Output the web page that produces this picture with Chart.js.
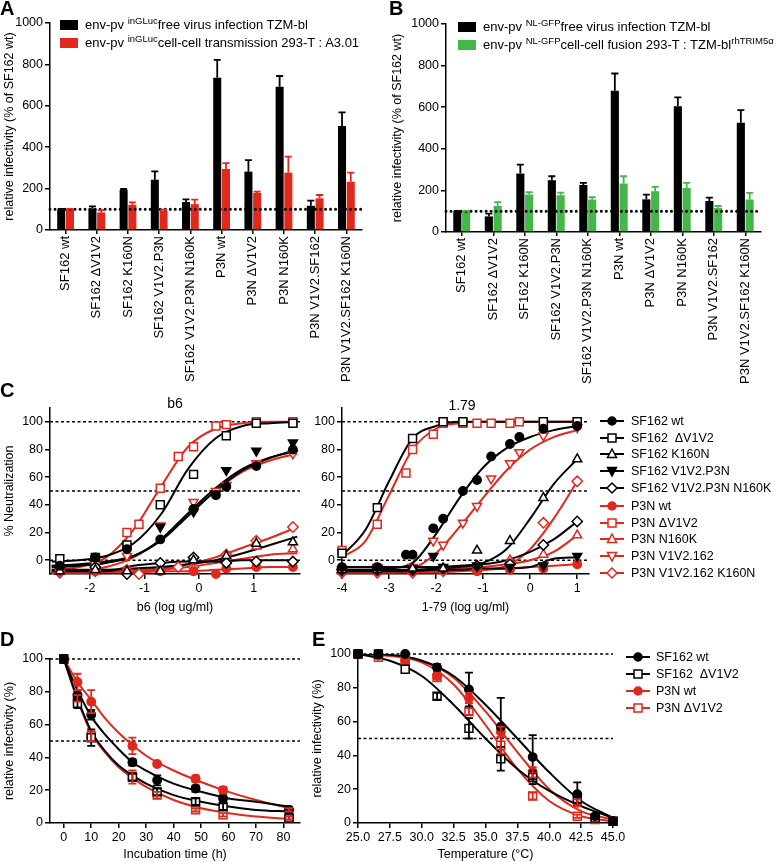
<!DOCTYPE html>
<html>
<head>
<meta charset="utf-8">
<script src="https://cdn.jsdelivr.net/npm/chart.js@4.4.1/dist/chart.umd.min.js"></script>
<style>
body { margin: 0; background: #fff; }
#page { position: relative; width: 778px; height: 862px; overflow: hidden; background: #fff;
        font-family: 'Liberation Sans', Arial, sans-serif; color: #000; }
canvas { position: absolute; }
.lbl { position: absolute; white-space: pre; line-height: 1; }
.panel { font-weight: bold; font-size: 20px; }
.leg { font-size: 13px; }
.leg sup { font-size: 9.5px; vertical-align: 5px; line-height: 0; }
.swatch { position: absolute; width: 18px; height: 10px; }
.cleg { font-size: 12.5px; }
</style>
</head>
<body>
<div id="page">
  <canvas id="chartA" width="380" height="386" style="left:0;top:0"></canvas>
  <canvas id="chartB" width="390" height="386" style="left:388px;top:0"></canvas>
  <canvas id="chartC1" width="310" height="225" style="left:0;top:390px"></canvas>
  <canvas id="chartC2" width="310" height="225" style="left:292px;top:390px"></canvas>
  <canvas id="chartD" width="310" height="232" style="left:0;top:630px"></canvas>
  <canvas id="chartE" width="322" height="232" style="left:308px;top:630px"></canvas>

  <div class="lbl panel" style="left:0;top:-2px">A</div>
  <div class="lbl panel" style="left:389px;top:-2px">B</div>
  <div class="lbl panel" style="left:0;top:380px">C</div>
  <div class="lbl panel" style="left:0;top:629px">D</div>
  <div class="lbl panel" style="left:312px;top:629px">E</div>

  <div class="swatch" style="left:60px;top:20px;background:#000"></div>
  <div class="lbl leg" style="left:85px;top:18px">env-pv <sup>inGLuc</sup>free virus infection TZM-bl</div>
  <div class="swatch" style="left:60px;top:38px;background:#e2271d"></div>
  <div class="lbl leg" style="left:85px;top:36px">env-pv <sup>inGLuc</sup>cell-cell transmission 293-T : A3.01</div>

  <div class="swatch" style="left:458px;top:22px;background:#000"></div>
  <div class="lbl leg" style="left:483px;top:20px">env-pv <sup>NL-GFP</sup>free virus infection TZM-bl</div>
  <div class="swatch" style="left:458px;top:40px;background:#45b649"></div>
  <div class="lbl leg" style="left:483px;top:38px">env-pv <sup>NL-GFP</sup>cell-cell fusion 293-T : TZM-bl<sup>rhTRIM5α</sup></div>

  <div class="lbl" style="left:175px;top:396px;font-size:14px;transform:translateX(-50%)">b6</div>
  <div class="lbl" style="left:462px;top:398px;font-size:14px;transform:translateX(-50%)">1.79</div>

  <div id="legendC"></div>
  <div id="legendE"></div>
</div>
<script>
const RED = '#e2271d';
const GREEN = '#45b649';

// ---- panel A / B bars ----
const categories = ['SF162 wt', 'SF162 ΔV1V2', 'SF162 K160N', 'SF162 V1V2.P3N', 'SF162 V1V2.P3N N160K',
    'P3N wt', 'P3N ΔV1V2', 'P3N N160K', 'P3N V1V2.SF162', 'P3N V1V2.SF162 K160N'];
const aFree = [100, 104, 193, 243, 135, 736, 282, 692, 117, 502];
const aFreeErr = [2, 10, 5, 40, 13, 86, 56, 52, 25, 66];
const aCell = [100, 85, 122, 94, 125, 295, 179, 277, 153, 233];
const aCellErr = [2, 11, 11, 4, 22, 28, 6, 77, 16, 44];
const bFree = [100, 75, 281, 249, 226, 679, 157, 605, 149, 525];
const bFreeErr = [2, 13, 43, 19, 10, 83, 23, 42, 16, 61];
const bFusion = [100, 125, 180, 177, 156, 233, 196, 212, 116, 156];
const bFusionErr = [2, 19, 11, 12, 11, 35, 21, 24, 9, 32];
const barTicks = [0, 200, 400, 600, 800, 1000];

// ---- panel C ----
const cNames = ['SF162 wt', 'SF162  ΔV1V2', 'SF162 K160N', 'SF162 V1V2.P3N', 'SF162 V1V2.P3N N160K',
    'P3N wt', 'P3N ΔV1V2', 'P3N N160K', 'P3N V1V2.162', 'P3N V1V2.162 K160N'];
const cTicksY = [0, 20, 40, 60, 80, 100];

const b6X = [-2.55, -1.9, -1.32, -1.1, -0.71, -0.38, -0.1, 0.31, 0.5, 1.05, 1.72];
const b6SF162wt = [-4, 2, 8, null, 15, null, 37, 47, 53, 68, 80];
const b6SF162dV1V2 = [1, 2, 11, null, 40, null, 62, null, 90, 99, 99];
const b6SF162K160N = [-8, -7, -8, null, -8, null, 0, null, 3, 12, 13];
const b6SF162V1V2P3N = [-6, 1, 10, null, 24, null, 35, 48, 65, 79, 85];
const b6SF162N160K = [-5, -5, -10, null, -2, null, 2, null, -2, -1, -1];
const b6P3Nwt = [-8, -8, -7, null, -8, null, -8, -10, -6, -5, -5];
const b6P3NdV1V2 = [-7, -3, 20, 26, 52, 75, 82, 97, 98, 100, 100];
const b6P3NN160K = [-8, -8, -7, null, -7, null, -6, null, 0, 10, 8];
const b6P3NV1V2162 = [-8, -3, 3, null, 25, null, 42, 50, 54, 70, 77];
const b6P3NK160N = [-9, -8, -8, -10, -7, -5, -5, null, 4, 14, 24];

const b6FitX = [-2.7, -2.2, -1.7, -1.2, -0.7, -0.2, 0.3, 0.8, 1.3, 1.8];
const b6FitSF162wt = [-4, -3, -1, 3, 14, 32, 50, 65, 74, 80];
const b6FitSF162dV1V2 = [-1, 0, 3, 12, 33, 66, 88, 97, 99, 100];
const b6FitSF162K160N = [-7, -7, -7, -6, -5, -3, 0, 5, 11, 17];
const b6FitSF162V1V2P3N = [-5, -4, -2, 3, 15, 34, 52, 66, 74, 79];
const b6FitSF162N160K = [-8, -8, -8, -4, -2, -1, -1, 0, 0, 0];
const b6FitP3Nwt = [-9, -9, -9, -9, -8, -8, -7, -6, -5, -5];
const b6FitP3NdV1V2 = [-7, -5, 2, 22, 53, 82, 95, 99, 100, 100];
const b6FitP3NN160K = [-9, -9, -8, -8, -7, -5, -2, 1, 4, 5];
const b6FitP3NV1V2162 = [-9, -8, -5, 2, 15, 33, 50, 64, 72, 77];
const b6FitP3NK160N = [-9, -9, -8, -7, -6, -3, 2, 9, 16, 24];
const b6TicksX = [-2, -1, 0, 1];

const m79X = [-4, -3.25, -2.64, -2.5, -2.06, -1.85, -1.43, -1.13, -0.83, -0.43, -0.23, 0.28, 1.0];
const m79SF162wt = [-5, -5, 4, 4, 23, 30, 50, 58, 75, 84, 89, 95, 97];
const m79SF162dV1V2 = [5, 38, null, 88, null, 100, 100, null, null, null, null, 100, 100];
const m79SF162K160N = [-7, -7, null, -6, null, -6, null, 7, null, 14, null, 45, 73];
const m79SF162V1V2P3N = [-7, -6, null, -6, 3, -5, null, -4, null, -5, null, -4, 3];
const m79SF162N160K = [-7, -7, null, -7, null, -6, null, -4, null, -3, null, 11, 28];
const m79P3Nwt = [-8, -8, null, -8, null, -7, null, -8, null, -7, null, -6, -3];
const m79P3NdV1V2 = [7, 26, 63, 80, 91, 99, 99, 99, 99, 99, 100, 100, 100];
const m79P3NN160K = [-8, -8, null, -7, null, -7, null, -6, null, 0, null, 4, 18];
const m79P3NV1V2162 = [-8, -5, null, -5, 14, 11, 27, 39, 59, 70, 78, 90, 96];
const m79P3NK160N = [-9, -9, null, -9, null, -8, null, -7, null, -3, null, 27, 57];

const m79FitX = [-4, -3.5, -3, -2.5, -2, -1.5, -1, -0.5, 0, 0.5, 1];
const m79FitSF162wt = [-7, -7, -6, -2, 19, 45, 67, 81, 89, 94, 97];
const m79FitSF162dV1V2 = [3, 22, 57, 88, 97, 100, 100, 100, 100, 100, 100];
const m79FitSF162K160N = [-7, -7, -7, -7, -6, -5, -2, 8, 30, 55, 73];
const m79FitSF162V1V2P3N = [-8, -8, -8, -8, -7, -7, -6, -6, -5, 1, 2];
const m79FitSF162N160K = [-5, -5, -5, -5, -5, -4, -3, 0, 6, 15, 28];
const m79FitP3Nwt = [-9, -9, -9, -8, -8, -7, -7, -6, -5, -4, -3];
const m79FitP3NdV1V2 = [2, 14, 47, 80, 95, 99, 100, 100, 100, 100, 100];
const m79FitP3NN160K = [-8, -8, -8, -8, -7, -6, -5, -3, 0, 6, 18];
const m79FitP3NV1V2162 = [-8, -8, -8, -6, 5, 24, 45, 65, 80, 89, 94];
const m79FitP3NK160N = [-9, -9, -9, -9, -9, -8, -7, -4, 8, 30, 57];
const m79TicksX = [-4, -3, -2, -1, 0, 1];

// ---- panel D ----
const deNames = ['SF162 wt', 'SF162  ΔV1V2', 'P3N wt', 'P3N ΔV1V2'];
const dX = [0, 5, 10, 25, 34, 48, 58, 82];
const dSF162wt = [100, 78, 66, 37, 26, 21, 15, 8];
const dSF162wtErr = [0, 3, 3, 2, 3, 2, 2, 2];
const dSF162dV1V2 = [100, 73, 52, 28, 19, 13, 10, 3];
const dSF162dV1V2Err = [0, 3, 5, 2, 2, 2, 2, 1];
const dP3Nwt = [100, 86, 74, 47, 36, 27, 20, 8];
const dP3NwtErr = [0, 5, 7, 5, 1, 2, 2, 1];
const dP3NdV1V2 = [100, 76, 53, 28, 17, 8, 5, 3];
const dP3NdV1V2Err = [0, 2, 3, 4, 2, 1, 1, 1];
const dFitX = [0, 5, 10, 15, 20, 25, 30, 40, 50, 60, 70, 82];
const dFitSF162wt = [100, 81, 65, 54, 45, 37, 32, 24, 19, 15, 13, 10];
const dFitSF162dV1V2 = [100, 76, 56, 44, 35, 29, 24, 17, 13, 10, 8, 7];
const dFitP3Nwt = [100, 86, 75, 64, 55, 47.5, 41, 32, 25, 19, 14, 9];
const dFitP3NdV1V2 = [100, 75, 55, 43, 34, 27.5, 22, 14, 9, 6, 4, 2.5];
const dTicksX = [0, 10, 20, 30, 40, 50, 60, 70, 80];

// ---- panel E ----
const eX = [25, 26.6, 28.7, 31.2, 33.7, 36.2, 38.7, 42.2, 43.6, 45];
const eSF162wt = [100, 100, 100, 92, 79, 57, 39, 17, 4, 1];
const eSF162wtErr = [0, 0, 0, 2, 10, 17, 13, 7, 1, 0];
const eSF162dV1V2 = [100, 100, 91, 75, 56, 38, 27, 14, 3, 1];
const eSF162dV1V2Err = [0, 0, 0, 2, 6, 7, 4, 2, 0, 0];
const eP3Nwt = [100, 99, 96, 87, 74, 54, 30, 12, 3, 1];
const eP3NwtErr = [0, 0, 0, 2, 3, 3, 3, 2, 0, 0];
const eP3NdV1V2 = [100, 98, 96, 86, 66, 46, 16, 4, 2, 1];
const eP3NdV1V2Err = [0, 0, 0, 1, 2, 5, 2, 1, 0, 0];
const eFitX = [25, 27.5, 30, 32.5, 35, 37.5, 40, 42.5, 45];
const eFitSF162wt = [100, 99.5, 96, 87, 70, 50, 30, 13, 3];
const eFitSF162dV1V2 = [100, 96, 87, 70, 50, 32, 19, 10, 3];
const eFitP3Nwt = [100, 99, 96, 86, 66, 42, 20, 7, 2];
const eFitP3NdV1V2 = [100, 99, 95, 82, 58, 32, 13, 4, 1];
const eTicksX = [25, 27.5, 30, 32.5, 35, 37.5, 40, 42.5, 45];
const deTicksY = [0, 20, 40, 60, 80, 100];

// marker styles for the 10 C series and the 4 D/E series
const cColors = ['#000', '#000', '#000', '#000', '#000', RED, RED, RED, RED, RED];
const cShapes = ['circle', 'rect', 'triangle', 'down', 'rectRot', 'circle', 'rect', 'triangle', 'down', 'rectRot'];
const cFilled = [true, false, false, true, false, true, false, false, false, false];
const deColors = ['#000', '#000', RED, RED];
const deShapes = ['circle', 'rect', 'circle', 'rect'];
const deFilled = [true, false, true, false];

Chart.defaults.font.family = "'Liberation Sans', Arial, sans-serif";
Chart.defaults.font.size = 12.5;
Chart.defaults.color = '#000';
Chart.defaults.animation = false;

function drawRefLines(chart, opts) {
    if (!opts.values) return;
    const ctx = chart.ctx;
    const area = chart.chartArea;
    ctx.save();
    ctx.strokeStyle = '#000';
    ctx.lineWidth = opts.width;
    ctx.lineCap = opts.cap || 'butt';
    ctx.setLineDash(opts.dash);
    opts.values.forEach(v => {
        const y = chart.scales.y.getPixelForValue(v);
        ctx.beginPath();
        ctx.moveTo(area.left, y);
        ctx.lineTo(area.right, y);
        ctx.stroke();
    });
    ctx.restore();
}

const refLines = {
    id: 'refLines',
    beforeDatasetsDraw(chart, args, opts) {
        if (!opts.front) drawRefLines(chart, opts);
    },
    afterDatasetsDraw(chart, args, opts) {
        if (opts.front) drawRefLines(chart, opts);
    }
};

const errorBars = {
    id: 'errorBars',
    afterDatasetsDraw(chart) {
        const ctx = chart.ctx;
        const yScale = chart.scales.y;
        chart.data.datasets.forEach((ds, i) => {
            const meta = chart.getDatasetMeta(i);
            meta.data.forEach((el, j) => {
                const raw = ds.data[j];
                let top, bottom, cap;
                if (ds.errors) {
                    if (!ds.errors[j]) return;
                    top = yScale.getPixelForValue(raw + ds.errors[j]);
                    bottom = el.y;
                    cap = 3.5;
                } else if (raw && raw.e) {
                    top = yScale.getPixelForValue(raw.y + raw.e);
                    bottom = yScale.getPixelForValue(raw.y - raw.e);
                    cap = 4;
                } else {
                    return;
                }
                ctx.save();
                ctx.strokeStyle = ds.borderColor;
                ctx.lineWidth = 1.8;
                ctx.beginPath();
                ctx.moveTo(el.x, bottom);
                ctx.lineTo(el.x, top);
                ctx.moveTo(el.x - cap, top);
                ctx.lineTo(el.x + cap, top);
                if (!ds.errors) {
                    ctx.moveTo(el.x - cap, bottom);
                    ctx.lineTo(el.x + cap, bottom);
                }
                ctx.stroke();
                ctx.restore();
            });
        });
    }
};

function axis(extra) {
    const base = {
        border: { color: '#000', width: 1.5 },
        grid: { drawOnChartArea: false, color: '#000', lineWidth: 1.5, tickLength: 5 },
        ticks: { color: '#000', padding: 2, font: { size: 12.5 } },
        title: { display: false, color: '#000', font: { size: 12 }, padding: { top: 3, bottom: 3 } }
    };
    for (const key in extra) {
        if (typeof extra[key] === 'object' && !Array.isArray(extra[key]) && base[key]) {
            base[key] = Object.assign({}, base[key], extra[key]);
        } else {
            base[key] = extra[key];
        }
    }
    return base;
}

function fixedTicks(values) {
    return scale => { scale.ticks = values.map(v => ({ value: v })); };
}

// plain numbers, no thousands separator
const plainNumber = v => String(v);

function createBarChart(id, first, firstErr, second, secondErr, secondColor, box) {
    const ctx = document.getElementById(id).getContext('2d');
    return new Chart(ctx, {
        type: 'bar',
        data: {
            labels: categories,
            datasets: [
                { data: first, errors: firstErr, backgroundColor: '#000', borderColor: '#000', borderWidth: 0 },
                { data: second, errors: secondErr, backgroundColor: secondColor, borderColor: secondColor, borderWidth: 0 }
            ]
        },
        plugins: [refLines, errorBars],
        options: {
            responsive: false,
            layout: { padding: { top: box.top, right: box.right, left: 0, bottom: 0 } },
            datasets: { bar: { barPercentage: 0.92, categoryPercentage: 0.56 } },
            plugins: {
                legend: { display: false },
                tooltip: { enabled: false },
                refLines: { values: [100], width: 3, dash: [0.01, 5], cap: 'round', front: true }
            },
            scales: {
                x: axis({
                    grid: { offset: false, drawOnChartArea: false, color: '#000', lineWidth: 1.5, tickLength: 4 },
                    ticks: { color: '#000', padding: 2, minRotation: 90, maxRotation: 90, autoSkip: false, font: { size: 13 } },
                    afterFit: s => { s.height = box.xh; }
                }),
                y: axis({
                    min: 0, max: 1000,
                    afterBuildTicks: fixedTicks(barTicks),
                    ticks: { color: '#000', padding: 2, font: { size: 12.5 }, callback: plainNumber },
                    title: { display: true, text: 'relative infectivity (% of SF162 wt)', color: '#000', font: { size: 12.5 }, padding: { top: 2, bottom: 2 } },
                    afterFit: s => { s.width = box.yw; }
                })
            }
        }
    });
}

function pointDatasets(xs, series, errs, colors, shapes, filled) {
    return series.map((ys, i) => {
        const shape = shapes[i];
        const radius = { circle: 4.2, rect: 5.6, triangle: 5.2, down: 5.2, rectRot: 5.2 }[shape];
        return {
            data: xs.map((x, j) => ({ x: x, y: ys[j], e: errs ? errs[i][j] : 0 })).filter(p => p.y !== null),
            showLine: false,
            pointStyle: shape === 'down' ? 'triangle' : shape,
            rotation: shape === 'down' ? 180 : 0,
            pointRadius: radius,
            pointBorderWidth: 1.5,
            borderColor: colors[i],
            pointBorderColor: colors[i],
            pointBackgroundColor: filled[i] ? colors[i] : '#fff',
            backgroundColor: colors[i],
            clip: false
        };
    });
}

function fitDatasets(xs, series, colors) {
    return series.map((ys, i) => ({
        data: xs.map((x, j) => ({ x: x, y: ys[j] })),
        showLine: true,
        pointRadius: 0,
        borderColor: colors[i],
        borderWidth: 2,
        cubicInterpolationMode: 'monotone',
        fill: false
    }));
}

function createCurveChart(id, cfg) {
    const ctx = document.getElementById(id).getContext('2d');
    const datasets = pointDatasets(cfg.px, cfg.points, cfg.errs, cfg.colors, cfg.shapes, cfg.filled)
        .concat(fitDatasets(cfg.fx, cfg.fits, cfg.colors));
    return new Chart(ctx, {
        type: 'scatter',
        data: { datasets: datasets },
        plugins: [refLines, errorBars],
        options: {
            responsive: false,
            layout: { padding: { top: cfg.box.top, right: cfg.box.right, left: 0, bottom: 0 } },
            plugins: {
                legend: { display: false },
                tooltip: { enabled: false },
                refLines: { values: cfg.refs, width: 1.5, dash: [3, 2.5], front: false }
            },
            scales: {
                x: axis({
                    type: 'linear', min: cfg.xMin, max: cfg.xMax,
                    afterBuildTicks: fixedTicks(cfg.xTicks),
                    ticks: { color: '#000', padding: 2, font: { size: 12.5 }, callback: cfg.xFormat || plainNumber },
                    title: { display: true, text: cfg.xTitle, color: '#000', font: { size: 12.5 }, padding: { top: 3, bottom: 0 } },
                    afterFit: s => { s.height = cfg.box.xh; }
                }),
                y: axis({
                    type: 'linear', min: cfg.yMin, max: cfg.yMax,
                    afterBuildTicks: fixedTicks(cfg.yTicks),
                    ticks: { color: '#000', padding: 2, font: { size: 12.5 }, callback: plainNumber },
                    title: { display: !!cfg.yTitle, text: cfg.yTitle || '', color: '#000', font: { size: 12.5 }, padding: { top: 2, bottom: 2 } },
                    afterFit: s => { s.width = cfg.box.yw; }
                })
            }
        }
    });
}

function markerSvg(shape, color, filled) {
    const fill = filled ? color : '#fff';
    let mark;
    if (shape === 'circle') mark = `<circle cx="12" cy="7" r="4" fill="${fill}" stroke="${color}" stroke-width="1.5"/>`;
    else if (shape === 'rect') mark = `<rect x="8" y="3" width="8" height="8" fill="${fill}" stroke="${color}" stroke-width="1.5"/>`;
    else if (shape === 'triangle') mark = `<polygon points="12,2 16.5,10.5 7.5,10.5" fill="${fill}" stroke="${color}" stroke-width="1.5"/>`;
    else if (shape === 'down') mark = `<polygon points="7.5,3.5 16.5,3.5 12,12" fill="${fill}" stroke="${color}" stroke-width="1.5"/>`;
    else mark = `<polygon points="12,2 17,7 12,12 7,7" fill="${fill}" stroke="${color}" stroke-width="1.5"/>`;
    return `<svg width="24" height="14" style="position:absolute;left:0;top:0"><line x1="0" y1="7" x2="24" y2="7" stroke="${color}" stroke-width="2"/>${mark}</svg>`;
}

function buildLegend(containerId, names, colors, shapes, filled, left, textLeft, rows) {
    const container = document.getElementById(containerId);
    names.forEach((name, i) => {
        const sym = document.createElement('div');
        sym.style.position = 'absolute';
        sym.style.left = left + 'px';
        sym.style.top = (rows[i] - 7) + 'px';
        sym.style.width = '24px';
        sym.style.height = '14px';
        sym.innerHTML = markerSvg(shapes[i], colors[i], filled[i]);
        container.appendChild(sym);

        const text = document.createElement('div');
        text.className = 'lbl cleg';
        text.style.left = textLeft + 'px';
        text.style.top = (rows[i] - 6) + 'px';
        text.textContent = name;
        container.appendChild(text);
    });
}

createBarChart('chartA', aFree, aFreeErr, aCell, aCellErr, RED, { yw: 50, xh: 156, top: 23, right: 18 });
createBarChart('chartB', bFree, bFreeErr, bFusion, bFusionErr, GREEN, { yw: 58, xh: 154, top: 24, right: 17 });

createCurveChart('chartC1', {
    px: b6X,
    points: [b6SF162wt, b6SF162dV1V2, b6SF162K160N, b6SF162V1V2P3N, b6SF162N160K,
        b6P3Nwt, b6P3NdV1V2, b6P3NN160K, b6P3NV1V2162, b6P3NK160N],
    fx: b6FitX,
    fits: [b6FitSF162wt, b6FitSF162dV1V2, b6FitSF162K160N, b6FitSF162V1V2P3N, b6FitSF162N160K,
        b6FitP3Nwt, b6FitP3NdV1V2, b6FitP3NN160K, b6FitP3NV1V2162, b6FitP3NK160N],
    colors: cColors, shapes: cShapes, filled: cFilled,
    xMin: -2.73, xMax: 1.85, xTicks: b6TicksX, yMin: -10, yMax: 110, yTicks: cTicksY,
    refs: [0, 50, 100], xTitle: 'b6 (log ug/ml)', yTitle: '% Neutralization',
    box: { yw: 50, xh: 41, top: 18, right: 10 }
});

createCurveChart('chartC2', {
    px: m79X,
    points: [m79SF162wt, m79SF162dV1V2, m79SF162K160N, m79SF162V1V2P3N, m79SF162N160K,
        m79P3Nwt, m79P3NdV1V2, m79P3NN160K, m79P3NV1V2162, m79P3NK160N],
    fx: m79FitX,
    fits: [m79FitSF162wt, m79FitSF162dV1V2, m79FitSF162K160N, m79FitSF162V1V2P3N, m79FitSF162N160K,
        m79FitP3Nwt, m79FitP3NdV1V2, m79FitP3NN160K, m79FitP3NV1V2162, m79FitP3NK160N],
    colors: cColors, shapes: cShapes, filled: cFilled,
    xMin: -4, xMax: 1.25, xTicks: m79TicksX, yMin: -10, yMax: 110, yTicks: cTicksY,
    refs: [0, 50, 100], xTitle: '1-79 (log ug/ml)', yTitle: '',
    box: { yw: 50, xh: 41, top: 18, right: 13 }
});

createCurveChart('chartD', {
    px: dX,
    points: [dSF162wt, dSF162dV1V2, dP3Nwt, dP3NdV1V2],
    errs: [dSF162wtErr, dSF162dV1V2Err, dP3NwtErr, dP3NdV1V2Err],
    fx: dFitX,
    fits: [dFitSF162wt, dFitSF162dV1V2, dFitP3Nwt, dFitP3NdV1V2],
    colors: deColors, shapes: deShapes, filled: deFilled,
    xMin: -5, xMax: 86, xTicks: dTicksX, yMin: 0, yMax: 100, yTicks: deTicksY,
    refs: [50, 100], xTitle: 'Incubation time (h)', yTitle: 'relative infectivity (%)',
    box: { yw: 50, xh: 39, top: 29, right: 10 }
});

createCurveChart('chartE', {
    px: eX,
    points: [eSF162wt, eSF162dV1V2, eP3Nwt, eP3NdV1V2],
    errs: [eSF162wtErr, eSF162dV1V2Err, eP3NwtErr, eP3NdV1V2Err],
    fx: eFitX,
    fits: [eFitSF162wt, eFitSF162dV1V2, eFitP3Nwt, eFitP3NdV1V2],
    colors: deColors, shapes: deShapes, filled: deFilled,
    xMin: 25, xMax: 45, xTicks: eTicksX, yMin: 0, yMax: 100, yTicks: deTicksY,
    xFormat: v => Number(v).toFixed(1),
    refs: [50, 100], xTitle: 'Temperature (°C)', yTitle: 'relative infectivity (%)',
    box: { yw: 50, xh: 39, top: 24, right: 17 }
});

buildLegend('legendC', cNames, cColors, cShapes, cFilled, 600, 631,
    [421, 438, 454, 471, 488, 506, 523, 539, 556, 573]);
buildLegend('legendE', deNames, deColors, deShapes, deFilled, 626, 656, [657, 674, 691, 708]);
</script>
</body>
</html>
